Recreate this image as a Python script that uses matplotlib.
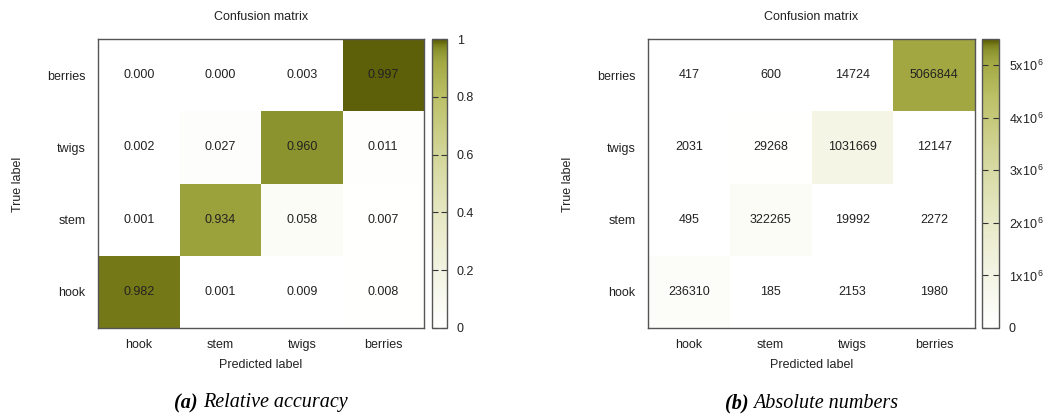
import numpy as np
import matplotlib
matplotlib.use("Agg")
import matplotlib.pyplot as plt
from matplotlib.colors import LinearSegmentedColormap, Normalize

# Class names (rows = true label, columns = predicted label), bottom to top
classes = ["hook", "stem", "twigs", "berries"]

# Relative accuracy, rows ordered hook, stem, twigs, berries
relative = np.array([
    [0.982, 0.001, 0.009, 0.008],
    [0.001, 0.934, 0.058, 0.007],
    [0.002, 0.027, 0.960, 0.011],
    [0.000, 0.000, 0.003, 0.997],
])

# Absolute counts, same ordering
absolute = np.array([
    [236310, 185, 2153, 1980],
    [495, 322265, 19992, 2272],
    [2031, 29268, 1031669, 12147],
    [417, 600, 14724, 5066844],
])

rel_ticks = [0, 0.2, 0.4, 0.6, 0.8, 1.0]
rel_ticklabels = ["0", "0.2", "0.4", "0.6", "0.8", "1"]
abs_ticks = [0, 1e6, 2e6, 3e6, 4e6, 5e6]
abs_ticklabels = ["0"] + [r"$\mathregular{%dx10^{\,6}}$" % k for k in range(1, 6)]
abs_max = 5.5e6

titles = ["Confusion matrix", "Confusion matrix"]
captions = [("(a)", "Relative accuracy"), ("(b)", "Absolute numbers")]

plt.rcParams["font.family"] = ["Liberation Sans", "DejaVu Sans"]
plt.rcParams["mathtext.fontset"] = "custom"
plt.rcParams["mathtext.rm"] = "Liberation Sans"

# White -> pale yellow-green -> olive -> black palette
cmap = LinearSegmentedColormap.from_list("olive", [
    (0.00, "#ffffff"),
    (0.20, "#f3f4e2"),
    (0.40, "#e5e7c2"),
    (0.60, "#d3d699"),
    (0.80, "#bcc067"),
    (0.92, "#a3a842"),
    (0.96, "#8c9430"),
    (0.98, "#7a7d1a"),
    (0.993, "#606309"),
    (0.997, "#5f6208"),
    (1.00, "#000000"),
], N=1024)

W, H = 1056, 416
fig = plt.figure(figsize=(W / 100, H / 100), dpi=100)
TXT = "#222222"
EDGE = "#555555"
renderer = fig.canvas.get_renderer()


def px_axes(x0, x1, y0, y1):
    return fig.add_axes([x0 / W, 1 - y1 / H, (x1 - x0) / W, (y1 - y0) / H])


def caption_text(cx, bold, rest):
    kw = dict(fontsize=14.5, family="Liberation Serif", style="italic",
              color="black", va="center")
    y = 1 - 403 / H
    t1 = fig.text(0, y, bold, weight="bold", ha="left", **kw)
    t2 = fig.text(0, y, rest, ha="left", **kw)
    w1 = t1.get_window_extent(renderer).width + 5
    w2 = t2.get_window_extent(renderer).width
    start = cx - (w1 + w2) / 2
    t1.set_x(start / W)
    t2.set_x((start + w1) / W)


def panel(data, vmax, ax_px, cb_px, fmt, ticks, ticklabels, title, caption, ylab_x):
    x0, x1 = ax_px
    ax = px_axes(x0, x1, 39, 328)
    norm = Normalize(0, vmax)
    n = len(classes)
    mesh = ax.pcolormesh(np.arange(n + 1), np.arange(n + 1), data, cmap=cmap, norm=norm)
    for i in range(n):
        for j in range(n):
            ax.text(j + 0.5, i + 0.5, fmt(data[i, j]), ha="center", va="center",
                    fontsize=9, color=TXT)
    ax.set_xlim(0, n)
    ax.set_ylim(0, n)
    ax.set_xticks(np.arange(n) + 0.5)
    ax.set_yticks(np.arange(n) + 0.5)
    ax.set_xticklabels(classes, fontsize=9, color=TXT, va="baseline")
    ax.set_yticklabels(classes, fontsize=9, color=TXT)
    ax.tick_params(axis="y", length=0, pad=9)
    ax.tick_params(axis="x", length=0, pad=14.5)
    for s in ax.spines.values():
        s.set_color(EDGE)
        s.set_linewidth(1.0)
    ax.set_title(title, fontsize=9, color=TXT, pad=14)
    ax.set_xlabel("Predicted label", fontsize=9, color=TXT, labelpad=6)
    fig.text(ylab_x / W, 1 - 184 / H, "True label", rotation=90, ha="center",
             va="center", fontsize=9, color=TXT)

    cx0, cx1 = cb_px
    cax = px_axes(cx0, cx1, 39, 328)
    cb = fig.colorbar(mesh, cax=cax)
    cb.outline.set_edgecolor(EDGE)
    cb.outline.set_linewidth(1.0)
    cb.set_ticks(ticks)
    cb.set_ticklabels(ticklabels)
    cax.tick_params(direction="in", left=True, right=True, length=4, width=0.8,
                    color="#333333", labelsize=9, labelcolor=TXT, pad=7)

    caption_text((x0 + x1) / 2, *caption)


panel(relative, 1.0, (98, 424), (432, 447), lambda v: f"{v:.3f}",
      rel_ticks, rel_ticklabels, titles[0], captions[0], 18)
panel(absolute, abs_max, (648, 975), (982, 999), lambda v: f"{int(v)}",
      abs_ticks, abs_ticklabels, titles[1], captions[1], 568)

fig.savefig("out.png", dpi=100, facecolor="white")
